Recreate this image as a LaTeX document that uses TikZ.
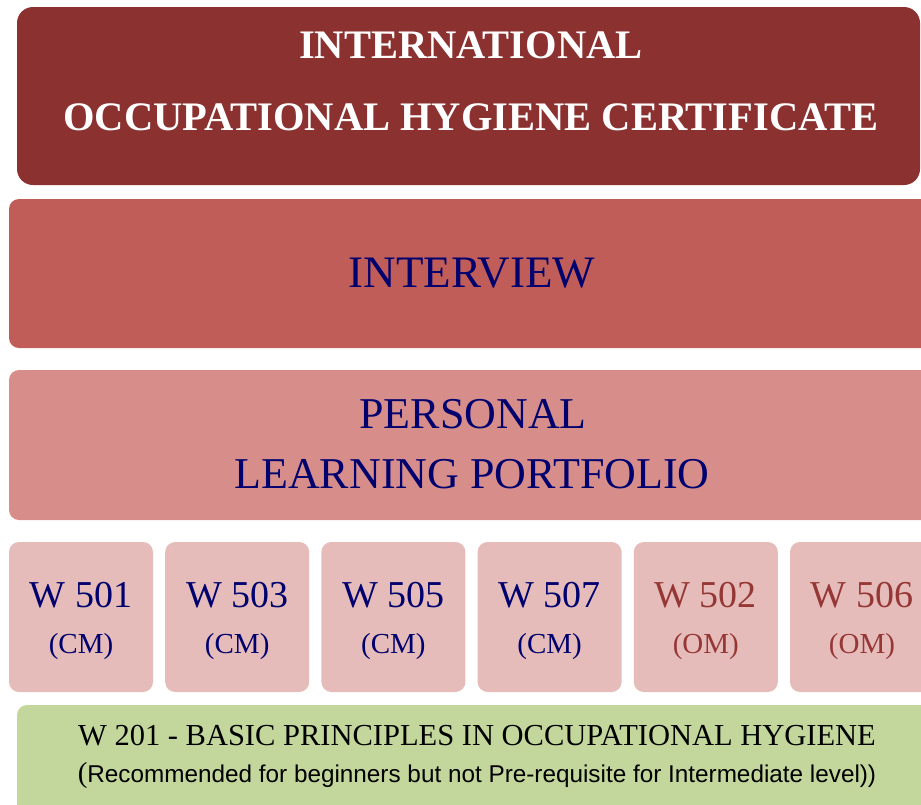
\documentclass[tikz,border=0pt]{standalone}
\usepackage{fontspec}
\setmainfont{Liberation Serif}
\newfontfamily\sansf{Liberation Sans}
\definecolor{topc}{RGB}{139,50,48}
\definecolor{intc}{RGB}{192,93,89}
\definecolor{plpc}{RGB}{215,142,139}
\definecolor{wbox}{RGB}{230,188,186}
\definecolor{grn}{RGB}{195,214,155}
\definecolor{navyt}{RGB}{0,0,110}
\definecolor{omt}{RGB}{149,55,53}
\tikzset{
  panel/.style={draw=none, anchor=north west, inner sep=0pt, outer sep=0pt},
  lbl/.style={anchor=base, inner sep=0pt, outer sep=0pt},
}
\begin{document}
\begin{tikzpicture}[x=1pt,y=-1pt]
\useasboundingbox (0,0) rectangle (921,804);
\clip (0,0) rectangle (921,804);
% top
\node[panel, fill=topc, rounded corners=16pt, minimum width=903pt, minimum height=178pt] (top) at (17,7) {};
\node[lbl, text=white, font=\fontsize{40.5}{40}\selectfont\bfseries] (t1) at (471,58) {INTERNATIONAL};
\node[lbl, text=white, font=\fontsize{40.5}{40}\selectfont\bfseries] (t2) at (471,130) {OCCUPATIONAL HYGIENE CERTIFICATE};
% interview
\node[panel, fill=intc, rounded corners=10pt, minimum width=940pt, minimum height=149pt] (int) at (9,199) {};
\node[lbl, text=navyt, font=\fontsize{45}{45}\selectfont] (intt) at (472,287) {INTERVIEW};
% portfolio
\node[panel, fill=plpc, rounded corners=10pt, minimum width=940pt, minimum height=150pt] (plp) at (9,370) {};
\node[lbl, text=navyt, font=\fontsize{44}{44}\selectfont] (plp1) at (473,428) {PERSONAL};
\node[lbl, text=navyt, font=\fontsize{44}{44}\selectfont] (plp2) at (472,488) {LEARNING PORTFOLIO};
% W boxes
\foreach \i/\num/\typ/\col in {0/501/CM/navyt, 1/503/CM/navyt, 2/505/CM/navyt, 3/507/CM/navyt, 4/502/OM/omt, 5/506/OM/omt}{
  \node[panel, fill=wbox, rounded corners=10pt, minimum width=144pt, minimum height=150pt] (w\i) at ({9+156.2*\i},542) {};
  \node[lbl, text=\col, font=\fontsize{38}{38}\selectfont] (wa\i) at ({81+156.2*\i},607) {W \num};
  \node[lbl, text=\col, font=\fontsize{29}{29}\selectfont] (wb\i) at ({81+156.2*\i},653) {(\typ)};
}
% green
\node[panel, fill=grn, rounded corners=10pt, minimum width=930pt, minimum height=130pt] (base) at (17,705) {};
\node[lbl, text=black, font=\fontsize{30.5}{30}\selectfont] (b1) at (477,745) {W 201 - BASIC PRINCIPLES IN OCCUPATIONAL HYGIENE};
\node[lbl, text=black, font=\fontsize{24.3}{24}\selectfont] (b2) at (477,782) {{\fontsize{29}{29}\selectfont(}{\sansf Recommended for beginners but not Pre-requisite for Intermediate level))}};
\end{tikzpicture}
\end{document}
